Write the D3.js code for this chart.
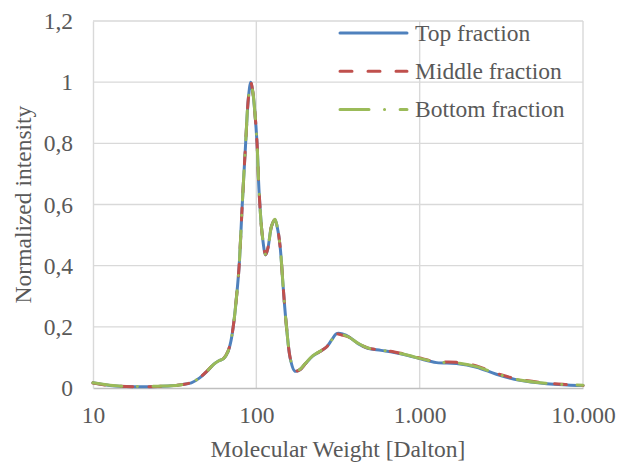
<!DOCTYPE html>
<html>
<head>
<meta charset="utf-8">
<script src="https://cdn.jsdelivr.net/npm/d3@7"></script>
<style>
body { margin: 0; background: #fff; }
</style>
</head>
<body>
<div id="chart"></div>
<script>
// molecular weight (Dalton), shared by all three fractions
var mw = [10, 12.7, 16, 20, 25, 30, 35, 40, 45, 50, 55, 59, 63, 67, 70, 73, 76, 78.5, 82, 86, 89.5, 92.5,
	95, 98, 101, 104, 109, 114, 118, 124, 130, 135, 140, 146, 153, 162, 172, 185, 200, 222, 250, 270,
	290, 310, 340, 370, 420, 480, 580, 700, 850, 1000, 1270, 1680, 2230, 2950, 4100, 6000, 8000, 10000];

var topFraction = [0.017, 0.008, 0.005, 0.004, 0.005, 0.007, 0.011, 0.017, 0.033, 0.055, 0.078, 0.089, 0.096, 0.118, 0.155, 0.22, 0.31, 0.4, 0.6, 0.8, 0.95, 1.0,
	0.97, 0.9, 0.8, 0.64, 0.495, 0.435, 0.46, 0.53, 0.55, 0.52, 0.46, 0.33, 0.2, 0.092, 0.055, 0.06, 0.08, 0.105, 0.122, 0.135,
	0.158, 0.178, 0.176, 0.167, 0.145, 0.13, 0.123, 0.116, 0.106, 0.096, 0.083, 0.08, 0.068, 0.045, 0.025, 0.014, 0.01, 0.008];

var middleFraction = [0.016, 0.008, 0.005, 0.004, 0.005, 0.007, 0.011, 0.018, 0.034, 0.056, 0.079, 0.09, 0.097, 0.12, 0.157, 0.22, 0.31, 0.4, 0.6, 0.8, 0.95, 1.0,
	0.97, 0.9, 0.8, 0.64, 0.495, 0.436, 0.46, 0.53, 0.55, 0.52, 0.46, 0.33, 0.2, 0.093, 0.056, 0.06, 0.08, 0.105, 0.122, 0.135,
	0.157, 0.176, 0.172, 0.166, 0.146, 0.131, 0.124, 0.118, 0.108, 0.098, 0.086, 0.084, 0.072, 0.048, 0.028, 0.016, 0.011, 0.008];

var bottomFraction = [0.017, 0.009, 0.005, 0.005, 0.006, 0.007, 0.011, 0.017, 0.034, 0.056, 0.078, 0.089, 0.096, 0.119, 0.156, 0.22, 0.31, 0.4, 0.6, 0.8, 0.95, 0.99,
	0.97, 0.9, 0.8, 0.64, 0.495, 0.437, 0.46, 0.53, 0.552, 0.52, 0.46, 0.33, 0.2, 0.093, 0.056, 0.061, 0.081, 0.106, 0.123, 0.136,
	0.158, 0.177, 0.174, 0.166, 0.146, 0.131, 0.124, 0.117, 0.107, 0.097, 0.085, 0.082, 0.07, 0.047, 0.026, 0.015, 0.011, 0.009];

var seriesNames = ["Top fraction", "Middle fraction", "Bottom fraction"];
var seriesColors = ["#4f81bd", "#c0504d", "#9bbb59"];
var seriesDash = [null, "12,16", "29,15.5,0.1,15.5"];

var xTicks = [10, 100, 1000, 10000];
var xTickLabels = ["10", "100", "1.000", "10.000"];
var yTicks = [0, 0.2, 0.4, 0.6, 0.8, 1, 1.2];

var serif = "'Liberation Serif', 'Times New Roman', Times, serif";
var textColor = "#595959";
var fontSize = 23.5;

var width = 618, height = 463;
var margin = {top: 21, right: 35, bottom: 75, left: 93};

var svg = d3.select("#chart").append("svg")
	.attr("width", width)
	.attr("height", height);

var x = d3.scaleLog()
	.domain([10, 10000])
	.range([margin.left, width - margin.right]);

var y = d3.scaleLinear()
	.domain([0, 1.2])
	.range([height - margin.bottom, margin.top]);

// gridlines
svg.append("g").selectAll("line")
	.data(yTicks.slice(1))
	.enter().append("line")
		.attr("x1", x(10)).attr("x2", x(10000))
		.attr("y1", function(d){return y(d)}).attr("y2", function(d){return y(d)})
		.attr("stroke", "#d9d9d9").attr("stroke-width", 1.4);

svg.append("g").selectAll("line")
	.data(xTicks.slice(1))
	.enter().append("line")
		.attr("x1", function(d){return x(d)}).attr("x2", function(d){return x(d)})
		.attr("y1", y(0)).attr("y2", y(1.2))
		.attr("stroke", "#d9d9d9").attr("stroke-width", 1.4);

// axes
var xAxis = d3.axisBottom(x)
	.tickValues(xTicks)
	.tickFormat(function(d, i){return xTickLabels[i]})
	.tickSize(0).tickPadding(18);

var gx = svg.append("g")
	.attr("transform", "translate(0," + y(0) + ")")
	.call(xAxis)
	.attr("font-family", serif).attr("font-size", fontSize);
gx.select(".domain").attr("stroke", "#bfbfbf").attr("stroke-width", 1.4);
gx.selectAll("text").attr("fill", textColor);

var yAxis = d3.axisLeft(y)
	.tickValues(yTicks)
	.tickFormat(function(d){return String(d).replace(".", ",")})
	.tickSize(0).tickPadding(20);

var gy = svg.append("g")
	.attr("transform", "translate(" + x(10) + ",0)")
	.call(yAxis)
	.attr("font-family", serif).attr("font-size", fontSize);
gy.select(".domain").attr("stroke", "#d9d9d9").attr("stroke-width", 1.4);
gy.selectAll("text").attr("fill", textColor);

// axis titles
svg.append("text")
	.attr("x", (x(10) + x(10000)) / 2)
	.attr("y", 457)
	.attr("text-anchor", "middle")
	.attr("font-family", serif).attr("font-size", fontSize).attr("fill", textColor)
	.text("Molecular Weight [Dalton]");

svg.append("text")
	.attr("transform", "translate(31," + ((y(0) + y(1.2)) / 2) + ") rotate(-90)")
	.attr("text-anchor", "middle")
	.attr("font-family", serif).attr("font-size", fontSize).attr("fill", textColor)
	.text("Normalized intensity");

// lines
var allSeries = [topFraction, middleFraction, bottomFraction];

var line = d3.line()
	.x(function(d, i){return x(mw[i])})
	.y(function(d){return y(d)})
	.curve(d3.curveCatmullRom.alpha(0.5));

allSeries.forEach(function(s, k){
	svg.append("path")
		.datum(s)
		.attr("d", line)
		.attr("fill", "none")
		.attr("stroke", seriesColors[k])
		.attr("stroke-width", 3)
		.attr("stroke-linecap", "round")
		.attr("stroke-linejoin", "round")
		.attr("stroke-dasharray", seriesDash[k]);
});

// legend
var legend = svg.append("g");
seriesNames.forEach(function(name, k){
	var ly = 33 + k * 38.2;
	legend.append("line")
		.attr("x1", 340).attr("x2", 407)
		.attr("y1", ly).attr("y2", ly)
		.attr("stroke", seriesColors[k])
		.attr("stroke-width", 3)
		.attr("stroke-linecap", "round")
		.attr("stroke-dasharray", seriesDash[k]);
	legend.append("text")
		.attr("x", 415)
		.attr("y", ly + 8)
		.attr("font-family", serif).attr("font-size", fontSize).attr("fill", textColor)
		.text(name);
});
</script>
</body>
</html>
